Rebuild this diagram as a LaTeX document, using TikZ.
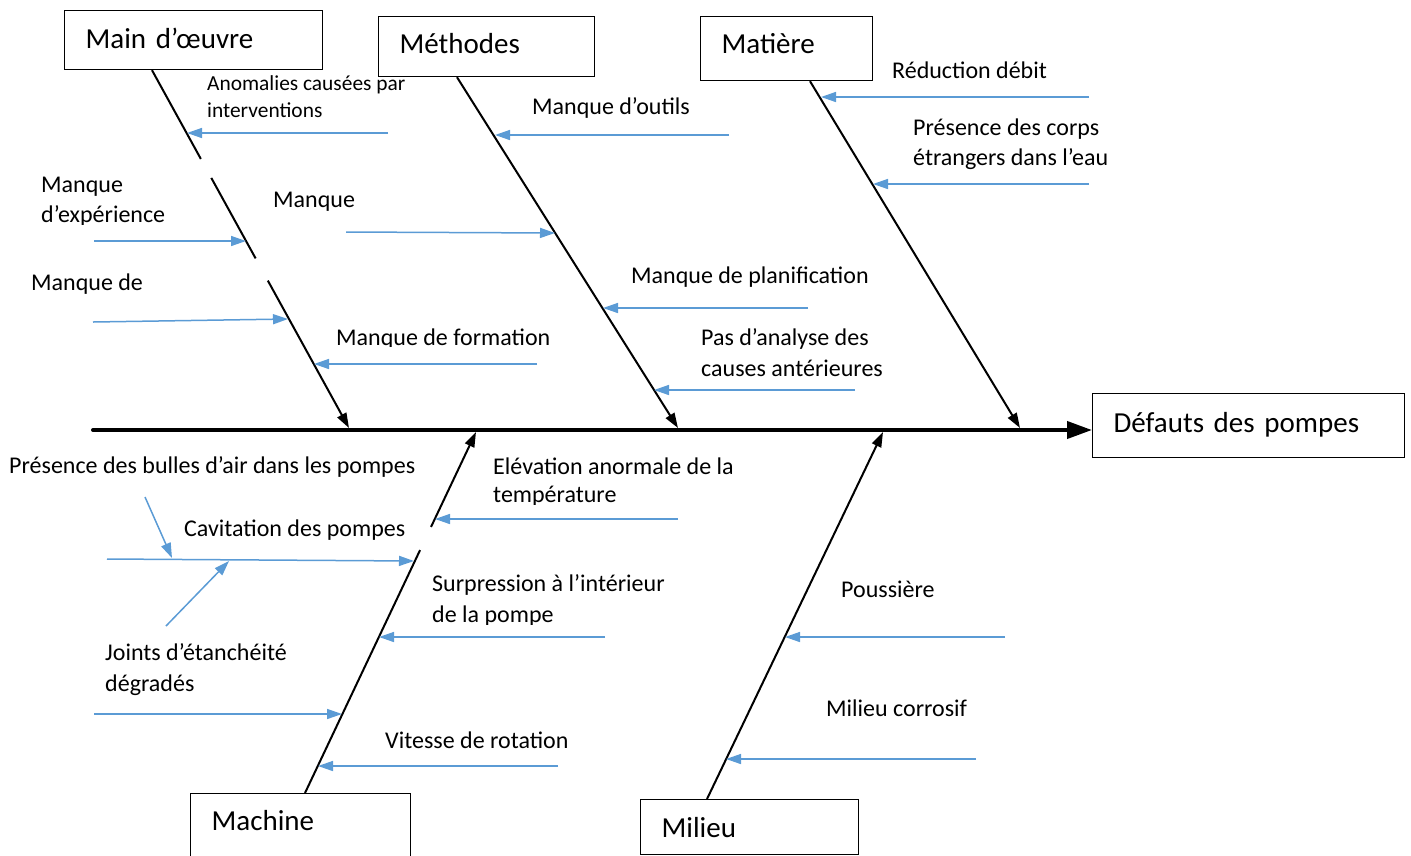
\documentclass[tikz,border=0pt]{standalone}
\usepackage{fontspec}
\setmainfont{Carlito}
\usetikzlibrary{arrows.meta,calc}
\definecolor{causeblue}{RGB}{91,155,213}

\begin{document}
\begin{tikzpicture}[x=1pt,y=-1pt,
  box/.style={draw, line width=1.2pt, anchor=north west, inner xsep=21pt,
    inner ysep=0pt, align=left, text depth=0pt,
    font=\fontsize{29}{35}\selectfont},
  lbl/.style={anchor=base west, inner sep=0pt, font=\fontsize{24}{30}\selectfont},
  lblsmall/.style={lbl, font=\fontsize{21.4}{27}\selectfont},
  spine/.style={line width=4pt, line cap=round, -{Triangle[length=25pt,width=17pt]}},
  bone/.style={line width=2pt, -{Triangle[length=15pt,width=10pt]}},
  bonepart/.style={line width=2pt},
  cause/.style={causeblue, line width=1.5pt, -{Triangle[length=15pt,width=10pt]}}
]
\useasboundingbox (0,0) rectangle (1411,855);

% category boxes and effect box
\node[box, minimum width=258pt, minimum height=59pt, text width=216pt, text height=17.6pt] (mo) at (64,10) {Main d’œuvre};
\node[box, minimum width=216pt, minimum height=60pt, text width=174pt, text height=14.6pt] (me) at (378,16) {Méthodes};
\node[box, minimum width=172pt, minimum height=64pt, text width=130pt, text height=10.6pt] (ma) at (700,16) {Matière};
\node[box, minimum width=312pt, minimum height=64pt, text width=270pt, text height=13.4pt] (ef) at (1092,393) {Défauts des pompes};
\node[box, minimum width=220pt, minimum height=64pt, text width=178pt, text height=10pt] (mc) at (190,793) {Machine};
\node[box, minimum width=218pt, minimum height=55pt, text width=176pt, text height=20.4pt] (mi) at (640,799) {Milieu};

% spine
\coordinate (tail) at (93,430);
\draw[spine] (tail) -- (tail -| ef.west);

% bones: feet on the boxes, tips on the spine
\coordinate (mo-foot) at ($(mo.south west)+(88,0)$);
\coordinate (me-foot) at ($(me.south west)+(79,0)$);
\coordinate (ma-foot) at ($(ma.south west)+(110,0)$);
\coordinate (mc-foot) at ($(mc.north west)+(115,0)$);
\coordinate (mi-foot) at ($(mi.north west)+(67,0)$);
\coordinate (mo-tip) at (349,428);
\coordinate (me-tip) at (678,428);
\coordinate (ma-tip) at (1020,428);
\coordinate (mc-tip) at (476,432);
\coordinate (mi-tip) at (883,432);

\draw[bonepart] (mo-foot) -- ($(mo-foot)!0.248!(mo-tip)$);
\draw[bonepart] ($(mo-foot)!0.301!(mo-tip)$) -- ($(mo-foot)!0.526!(mo-tip)$);
\draw[bone] ($(mo-foot)!0.588!(mo-tip)$) -- (mo-tip);
\draw[bone] (me-foot) -- (me-tip);
\draw[bone] (ma-foot) -- (ma-tip);
\draw[bonepart] (mc-foot) -- ($(mc-foot)!0.673!(mc-tip)$);
\draw[bone] ($(mc-foot)!0.737!(mc-tip)$) -- (mc-tip);
\draw[bone] (mi-foot) -- (mi-tip);

% cause arrows (free end / tip on a bone)
\foreach \n/\sx/\sy/\tx/\ty in {
  c1/388/133/187/133,
  c2/94/241/246/241,
  c3/93/322/288/319,
  c4/537/364/314/364,
  c5/346/232/555/233,
  c6/729/135/495/135,
  c7/808/308/603/308,
  c8/855/390/654/390,
  c9/1089/97/821/97,
  c10/1089/184/873/184,
  c11/678/519/435/519,
  c12/107/559/414/561,
  c13/605/637/379/637,
  c14/94/714/342/714,
  c15/558/766/318/766,
  c16/1005/637/785/637,
  c17/976/759/726/759,
  c18/145/497/172/558,
  c19/166/626/229/561}{
  \coordinate (\n s) at (\sx,\sy);
  \coordinate (\n t) at (\tx,\ty);
  \draw[cause] (\n s) -- (\n t);
}

% cause labels
\node[lblsmall] (t1a) at (207,90.7) {Anomalies causées par};
\node[lblsmall] (t1b) at (207,117.7) {interventions};
\node[lbl] (t2a) at (41,192.7) {Manque};
\begin{scope}
  \clip (0,0) rectangle (400,224);
  \node[lbl] (t2b) at (41,222.3) {d’expérience};
\end{scope}
\node[lbl] (t3) at (31,290.7) {Manque de};
\begin{scope}
  \clip (300,300) rectangle (600,346.7);
  \node[lbl] (t4) at (336,345) {Manque de formation};
\end{scope}
\node[lbl] (t5) at (273,207.3) {Manque};
\node[lbl] (t6) at (532,114.3) {Manque d’outils};
\node[lbl] (t7) at (631,283.3) {Manque de planification};
\node[lbl] (t8a) at (701,345) {Pas d’analyse des};
\node[lbl] (t8b) at (701,376.7) {causes antérieures};
\node[lbl] (t9) at (892,78.7) {Réduction débit};
\node[lbl] (t10a) at (913,135.7) {Présence des corps};
\node[lbl] (t10b) at (913,165.7) {étrangers dans l’eau};
\node[lbl] (t11a) at (493,474) {Elévation anormale de la};
\begin{scope}
  \clip (480,480) rectangle (700,504);
  \node[lbl] (t11b) at (493,502.7) {température};
\end{scope}
\node[lbl] (t12) at (184,536.7) {Cavitation des pompes};
\node[lbl] (t18) at (9,473.3) {Présence des bulles d’air dans les pompes};
\node[lbl] (t13a) at (432,591.7) {Surpression à l’intérieur};
\begin{scope}
  \clip (420,600) rectangle (700,624.3);
  \node[lbl] (t13b) at (432,622.7) {de la pompe};
\end{scope}
\node[lbl] (t14a) at (105,660.7) {Joints d’étanchéité};
\node[lbl] (t14b) at (105,691.7) {dégradés};
\node[lbl] (t15) at (385,748.3) {Vitesse de rotation};
\node[lbl] (t16) at (841,597.7) {Poussière};
\node[lbl] (t17) at (826,716) {Milieu corrosif};
\end{tikzpicture}
\end{document}
